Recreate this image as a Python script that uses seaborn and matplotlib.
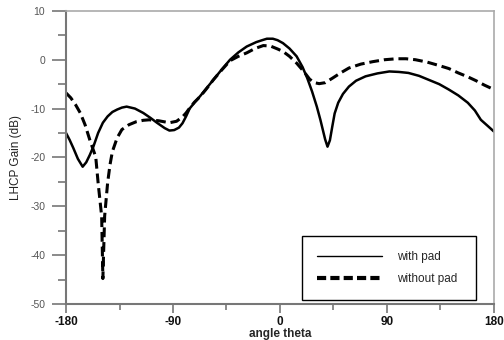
import matplotlib
matplotlib.use("Agg")
import matplotlib.pyplot as plt
from matplotlib.lines import Line2D
from matplotlib.ticker import MultipleLocator
import numpy as np
import pandas as pd
import seaborn as sns

# LHCP gain (angle in deg, gain in dB)
angle_pad = [-180, -177, -174, -170, -166, -163, -160, -157, -153, -149, -145, -141, -137,
             -133, -129, -122, -115, -109, -103.5, -97, -93, -89, -85, -82, -79, -76, -72,
             -67, -62, -56, -49, -42, -35, -28, -20, -15, -11, -6, -2, 2.5, 8, 14, 19, 23,
             27, 31, 34, 36, 38, 40, 42, 44, 46, 49, 53, 58, 64, 72, 82, 92, 100, 108, 117,
             125, 134, 142, 150, 158, 164, 169, 175, 180]
gain_pad = [-15.0, -16.4, -18.0, -20.3, -21.9, -21.0, -19.5, -17.8, -15.0, -12.9, -11.6, -10.7, -10.2,
            -9.8, -9.6, -10.0, -10.9, -11.9, -12.9, -14.0, -14.5, -14.4, -13.9, -13.0, -11.6, -10.0, -8.8,
            -7.4, -5.9, -4.1, -2.0, 0.0, 1.5, 2.7, 3.6, 4.0, 4.3, 4.3, 4.0, 3.4, 2.3, 0.7, -1.5, -3.8,
            -6.5, -9.6, -12.3, -14.3, -16.3, -17.8, -16.5, -13.7, -11.0, -8.8, -7.0, -5.5, -4.3, -3.4, -2.8,
            -2.4, -2.5, -2.7, -3.3, -4.1, -5.0, -6.1, -7.3, -8.8, -10.4, -12.3, -13.6, -14.7]

angle_nopad = [-180, -176, -172, -168, -164, -160, -157, -155, -153, -150, -149, -147.5, -145,
               -143, -141, -137, -133, -127, -121, -115, -110, -102, -93, -87, -82, -79, -76,
               -72, -67, -62, -56, -49, -42, -35, -28, -21, -14, -8, -2, 2.5, 8, 14, 20, 25,
               29, 33, 38, 44, 51, 58, 68, 78, 88, 98, 106, 114, 124, 134, 142, 150, 158, 165,
               172, 180]
gain_nopad = [-6.8, -7.8, -9.2, -10.9, -13.3, -16.4, -18.5, -19.9, -25.2, -32.1, -44.8, -32.0, -25.2,
              -21.5, -18.8, -16.0, -14.3, -13.3, -12.7, -12.4, -12.3, -12.5, -12.9, -12.6, -11.7, -10.9, -9.9,
              -8.7, -7.5, -6.0, -4.1, -2.1, -0.2, 0.7, 1.4, 2.3, 2.9, 2.8, 2.2, 1.7, 0.7, -0.7, -2.4, -4.0,
              -4.7, -4.9, -4.7, -3.8, -2.7, -1.7, -0.9, -0.4, 0.0, 0.2, 0.2, 0.0, -0.5, -1.2, -1.8, -2.7, -3.5, -4.3,
              -5.2, -6.1]

labels = ["with pad", "without pad"]

df = pd.concat([
    pd.DataFrame({"angle": angle_pad, "gain": gain_pad, "series": labels[0]}),
    pd.DataFrame({"angle": angle_nopad, "gain": gain_nopad, "series": labels[1]}),
])

sns.set_style("white")
plt.rcParams['font.family'] = ['Liberation Sans', 'DejaVu Sans']
plt.rcParams['axes.unicode_minus'] = False

fig = plt.figure(figsize=(5.04, 3.4), dpi=100)
ax = fig.add_axes([0.131, 0.106, 0.849, 0.862])

sns.lineplot(data=df[df.series == labels[0]], x="angle", y="gain", color="black",
             linewidth=1.8, estimator=None, sort=False, ax=ax, legend=False,
             solid_joinstyle="round")
sns.lineplot(data=df[df.series == labels[1]], x="angle", y="gain", color="black",
             linewidth=2.2, linestyle=(0, (3.2, 1.6)), estimator=None, sort=False,
             ax=ax, legend=False, dash_joinstyle="round")

ax.set_xlim(-180, 180)
ax.set_ylim(-50, 10)
ax.xaxis.set_major_locator(MultipleLocator(90))
ax.xaxis.set_minor_locator(MultipleLocator(45))
ax.yaxis.set_major_locator(MultipleLocator(10))
ax.yaxis.set_minor_locator(MultipleLocator(5))

ax.tick_params(axis="y", which="major", direction="out", length=10, width=1.2,
               color="#777777", labelsize=7.5, labelcolor="#555555", pad=5, left=True)
ax.tick_params(axis="y", which="minor", direction="out", length=5.5, width=1.2,
               color="#777777", left=True)
ax.tick_params(axis="x", which="major", direction="out", length=6.5, width=1.2,
               color="#777777", labelsize=8.5, labelcolor="#111111", pad=2.5, bottom=True)
ax.tick_params(axis="x", which="minor", direction="out", length=4, width=1.2,
               color="#777777", bottom=True)
for t in ax.get_xticklabels():
    t.set_fontweight("bold")

for side in ["left", "bottom"]:
    ax.spines[side].set_color("#777777")
    ax.spines[side].set_linewidth(1.5)
for side in ["top", "right"]:
    ax.spines[side].set_color("#aaaaaa")
    ax.spines[side].set_linewidth(1.2)

ax.set_xlabel("angle theta", fontsize=8.5, fontweight="bold", labelpad=-0.5)
ax.set_ylabel("LHCP Gain (dB)", fontsize=8.5, color="#222222", labelpad=6)

handles = [Line2D([], [], color="black", linewidth=1.0),
           Line2D([], [], color="black", linewidth=3.0, linestyle=(0, (2.2, 1.0)))]
leg = ax.legend(handles, labels, loc="upper left",
                bbox_to_anchor=(0.537, 0.253, 0.435, 0.0), mode="expand",
                fontsize=8.5, handlelength=5.5, handletextpad=1.3, labelspacing=0.85,
                borderpad=1.3, fancybox=False, framealpha=1, edgecolor="black")
leg.get_frame().set_linewidth(1.0)

plt.savefig("out.png", dpi=100)
